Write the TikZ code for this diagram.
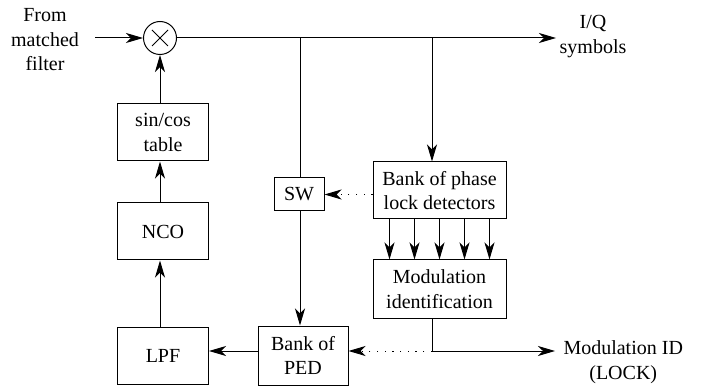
\documentclass[tikz,border=0pt]{standalone}
\usepackage{fontspec}
\setmainfont{Liberation Serif}
\usepackage{tikz}
\usetikzlibrary{arrows.meta,positioning,calc}

\begin{document}
\begin{tikzpicture}[x=1pt,y=-1pt,line width=1pt,
  >={Stealth[length=17pt,width=10pt,inset=5pt]},
  every node/.style={font=\fontsize{20}{24.5}\selectfont},
  box/.style={draw,line width=1pt,align=center,inner sep=0pt,minimum width=91pt,minimum height=57pt},
  lbl/.style={align=center,inner sep=0pt},
  dotline/.style={dash pattern=on 1.2pt off 6.5pt}]
  \useasboundingbox (0,0) rectangle (701,387);
  % mixer and NCO loop
  \node[draw,circle,line width=1pt,minimum size=33pt,inner sep=0pt] (mix) at (160,38) {};
  \draw ($(mix.center)+(-8,-8)$) -- ($(mix.center)+(8,8)$);
  \draw ($(mix.center)+(-8,8)$) -- ($(mix.center)+(8,-8)$);
  \node[lbl] (src) at (45,40) {From\\matched\\filter};
  \coordinate (in) at (95,38);
  \node[box] (tab) at (163,132.5) {sin/cos\\table};
  \node[box] (nco) at (163,231.5) {NCO};
  \node[box] (lpf) at (163,355.5) {LPF};
  % detector side
  \node[box,minimum width=50pt,minimum height=33pt] (sw) at (299,194.5) {SW};
  \node[box,minimum width=90pt,minimum height=59pt] (ped) at (303,355.5) {Bank of\\PED};
  \node[box,minimum width=133pt] (pld) at (439.5,190.5) {Bank of phase\\lock detectors};
  \node[box,minimum width=133pt,minimum height=58pt] (mod) at (439.5,289) {Modulation\\identification};
  \node[lbl] (iq) at (593,36.5) {I/Q\\symbols};
  \node[lbl,anchor=west] (modid) at (563,362) {Modulation ID\\(LOCK)};
  \coordinate (out) at (556,38);
  \coordinate (b1) at (300,38);
  \coordinate (b2) at (432,38);
  \coordinate (turn) at (432,351);
  \coordinate (out2) at (555,351);

  \draw[->] (in) -- (mix);
  \draw[->] (mix) -- (out);
  \draw (b1) -- (sw.north -| b1);
  \draw[->] (sw.south -| b1) -- (ped.north -| b1);
  \draw[->] (b2) -- (pld.north -| b2);
  \foreach \dx in {-50,-25,0,25,50}
    \draw[->] ([xshift=\dx pt]pld.south) -- ([xshift=\dx pt]mod.north);
  \draw[->] (mod.south -| turn) |- (out2);
  \draw[->,dotline] (turn) -- (ped.east |- turn);
  \draw[->,dotline] (pld.west |- sw) -- (sw.east);
  \draw[->] (ped.west |- turn) -- (lpf.east |- turn);
  \draw[->] (lpf.north -| mix) -- (nco.south -| mix);
  \draw[->] (nco.north -| mix) -- (tab.south -| mix);
  \draw[->] (tab.north -| mix) -- (mix);
\end{tikzpicture}
\end{document}
